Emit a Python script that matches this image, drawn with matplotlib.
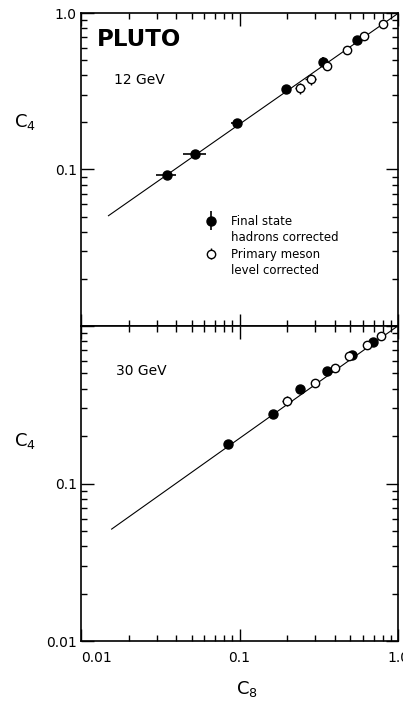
import matplotlib.pyplot as plt
from matplotlib.ticker import LogLocator, NullFormatter
from matplotlib.legend_handler import HandlerErrorbar
from matplotlib.lines import Line2D
import numpy as np

plt.rcParams['font.family'] = ['DejaVu Sans']

# 12 GeV, final state hadrons corrected (filled)
c8_12_had = [0.0349, 0.0527, 0.0957, 0.196, 0.334, 0.550]
c4_12_had = [0.0925, 0.125, 0.198, 0.329, 0.490, 0.678]
c8_12_had_err = [0.0051, 0.0085, 0.007, 0.011, 0.0, 0.0]
c4_12_had_err = [0.0055, 0.009, 0.012, 0.016, 0.035, 0.02]

# 12 GeV, primary meson level corrected (open)
c8_12_mes = [0.241, 0.281, 0.355, 0.476, 0.612, 0.804]
c4_12_mes = [0.332, 0.379, 0.459, 0.579, 0.712, 0.850]
c8_12_mes_err = [0.018, 0.021, 0.0, 0.0, 0.0, 0.0]
c4_12_mes_err = [0.027, 0.03, 0.02, 0.0, 0.0, 0.0]

# 30 GeV, final state hadrons corrected (filled)
c8_30_had = [0.085, 0.162, 0.241, 0.355, 0.510, 0.692]
c4_30_had = [0.177, 0.277, 0.395, 0.520, 0.651, 0.786]
c8_30_had_err = [0.005, 0.006, 0.0, 0.0, 0.0, 0.0]
c4_30_had_err = [0.008, 0.01, 0.0, 0.0, 0.0, 0.0]

# 30 GeV, primary meson level corrected (open)
c8_30_mes = [0.200, 0.301, 0.402, 0.493, 0.640, 0.781]
c4_30_mes = [0.333, 0.434, 0.541, 0.641, 0.753, 0.858]
c8_30_mes_err = [0.015, 0.012, 0.0, 0.0, 0.0, 0.0]
c4_30_mes_err = [0.025, 0.0, 0.0, 0.0, 0.0, 0.0]

# fitted power-law lines (end points)
fit_x_12 = [0.0149, 1.0]
fit_y_12 = [0.0506, 1.0]
fit_x_30 = [0.0156, 1.0]
fit_y_30 = [0.0515, 1.0]

major_ticks = [0.01, 0.1, 1.0]
major_labels = ["0.01", "0.1", "1.0"]

fig = plt.figure(figsize=(4.03, 7.03), dpi=100)
ax_top = fig.add_axes([0.201, 0.5367, 0.787, 0.4444])
ax_bot = fig.add_axes([0.201, 0.0875, 0.787, 0.4492])


def style_axis(ax):
    ax.set_xscale('log')
    ax.set_yscale('log')
    ax.set_xlim(0.01, 1.0)
    ax.set_ylim(0.01, 1.0)
    for a in (ax.xaxis, ax.yaxis):
        a.set_major_locator(LogLocator(base=10))
        a.set_minor_locator(LogLocator(base=10, subs=np.arange(2, 10)))
        a.set_minor_formatter(NullFormatter())
    ax.set_xticks(major_ticks)
    ax.set_yticks(major_ticks)
    ax.tick_params(which='both', direction='in', top=True, right=True,
                   width=1.0, labelsize=10, pad=3)
    ax.tick_params(which='major', length=9)
    ax.tick_params(which='minor', length=4.5)
    for s in ax.spines.values():
        s.set_linewidth(1.2)


def draw_panel(ax, fx, fy, xh, yh, xhe, yhe, xm, ym, xme, yme):
    ax.plot(fx, fy, color='black', lw=0.8)
    ax.errorbar(xh, yh, xerr=xhe, yerr=yhe, fmt='o', color='black',
                ms=6.5, elinewidth=1.2, capsize=0)
    ax.errorbar(xm, ym, xerr=xme, yerr=yme, fmt='o', color='black',
                mfc='white', mec='black', mew=1.0, ms=6,
                elinewidth=1.0, capsize=0)


style_axis(ax_top)
style_axis(ax_bot)

draw_panel(ax_top, fit_x_12, fit_y_12, c8_12_had, c4_12_had, c8_12_had_err,
           c4_12_had_err, c8_12_mes, c4_12_mes, c8_12_mes_err, c4_12_mes_err)
draw_panel(ax_bot, fit_x_30, fit_y_30, c8_30_had, c4_30_had, c8_30_had_err,
           c4_30_had_err, c8_30_mes, c4_30_mes, c8_30_mes_err, c4_30_mes_err)

# tick labels
ax_top.set_xticklabels([])
ax_top.set_yticklabels(["", "0.1", "1.0"])
ax_bot.set_yticklabels(["0.01", "0.1", ""])
xl = ax_bot.set_xticklabels(major_labels)
xl[0].set_horizontalalignment('left')
ax_bot.tick_params(axis='x', pad=7)

# axis labels
ax_top.set_ylabel("C$_4$", rotation=0, fontsize=13)
ax_top.yaxis.set_label_coords(-0.177, 0.62)
ax_bot.set_ylabel("C$_4$", rotation=0, fontsize=13)
ax_bot.yaxis.set_label_coords(-0.177, 0.603)
ax_bot.set_xlabel("C$_8$", fontsize=13, va='center')
ax_bot.xaxis.set_label_coords(0.524, -0.152)

# panel texts
ax_top.text(0.05, 0.915, "PLUTO", transform=ax_top.transAxes,
            fontsize=16.5, fontweight='bold', va='center', ha='left')
ax_top.text(0.105, 0.787, "12 GeV", transform=ax_top.transAxes,
            fontsize=10, va='center', ha='left')
ax_bot.text(0.11, 0.858, "30 GeV", transform=ax_bot.transAxes,
            fontsize=10, va='center', ha='left')

# legend: marker sits on the first line of each two-line label
h1 = ax_top.errorbar([np.nan], [np.nan], yerr=[0.1], fmt='o', color='black',
                     ms=6.5, elinewidth=1.2, capsize=0)
h2 = ax_top.errorbar([np.nan], [np.nan], yerr=[0.1], fmt='o', color='black',
                     mfc='white', mec='black', mew=1.0, ms=6,
                     elinewidth=1.0, capsize=0)
blank = Line2D([], [], linestyle='none')
ax_top.legend([h1, blank, h2, blank],
              ["Final state", "hadrons corrected",
               "Primary meson", "level corrected"],
              handler_map={h1: HandlerErrorbar(yerr_size=0.8),
                           h2: HandlerErrorbar(yerr_size=0.45)},
              loc='upper left', bbox_to_anchor=(0.39, 0.355), frameon=False,
              fontsize=8.5, handlelength=1.0, handletextpad=1.2,
              labelspacing=0.3, borderpad=0, borderaxespad=0)

fig.savefig('out.png', dpi=100)
